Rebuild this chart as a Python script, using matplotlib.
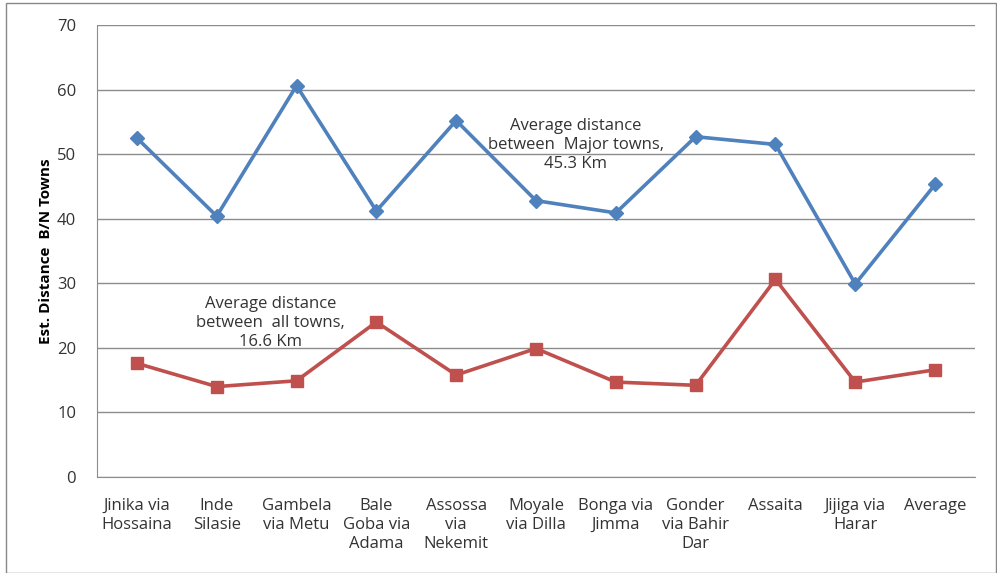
import matplotlib
matplotlib.use("Agg")
import matplotlib.pyplot as plt
from matplotlib.patches import Rectangle

plt.rcParams['font.family'] = ['Open Sans', 'DejaVu Sans']

# routes along the x axis
routes = ["Jinika via\nHossaina", "Inde\nSilasie", "Gambela\nvia Metu",
          "Bale\nGoba via\nAdama", "Assossa\nvia\nNekemit", "Moyale\nvia Dilla",
          "Bonga via\nJimma", "Gonder\nvia Bahir\nDar", "Assaita",
          "Jijiga via\nHarar", "Average"]

major_towns = [52.5, 40.4, 60.6, 41.2, 55.2, 42.8, 40.9, 52.7, 51.5, 29.9, 45.3]
all_towns = [17.6, 14.0, 14.9, 24.0, 15.8, 19.9, 14.7, 14.2, 30.6, 14.7, 16.6]

y_ticks = [0, 10, 20, 30, 40, 50, 60, 70]

blue = '#4F81BD'
red = '#C0504D'
grid_col = '#8C8C8C'

fig = plt.figure(figsize=(9.97, 5.73), dpi=100)
ax = fig.add_axes([97 / 997, 1 - 477 / 573, (975 - 97) / 997, (477 - 25) / 573])

x = list(range(len(routes)))
ax.plot(x, major_towns, color=blue, lw=2.6, marker='D', ms=7, mec=blue, mfc=blue, zorder=3)
ax.plot(x, all_towns, color=red, lw=2.6, marker='s', ms=9, mec=red, mfc=red, zorder=3)

ax.set_xlim(-0.5, len(routes) - 0.5)
ax.set_ylim(0, 70)
ax.set_yticks(y_ticks)
ax.yaxis.grid(True, color=grid_col, lw=1)
ax.set_axisbelow(True)
ax.set_xticks(x)
ax.set_xticklabels(routes, fontsize=12, linespacing=1.25, color='#333333')
ax.tick_params(axis='both', length=0, labelsize=12, colors='#333333')
ax.tick_params(axis='x', pad=15)
ax.tick_params(axis='y', pad=15)

for s in ['top', 'right']:
    ax.spines[s].set_visible(False)
ax.spines['left'].set_color(grid_col)
ax.spines['bottom'].set_color(grid_col)

ax.set_ylabel("Est. Distance  B/N Towns", fontsize=11, fontweight='bold', labelpad=3)

ax.text(5.5, 51.4, "Average distance\nbetween  Major towns,\n45.3 Km", ha='center', va='center',
        fontsize=12, linespacing=1.25, color='#333333')
ax.text(1.67, 23.8, "Average distance\nbetween  all towns,\n16.6 Km", ha='center', va='center',
        fontsize=12, linespacing=1.25, color='#333333')

fig.patches.append(Rectangle((6 / 997, 0), 990 / 997, 1 - 3 / 573, transform=fig.transFigure,
                             fill=False, ec='#888888', lw=1))

fig.savefig("out.png", dpi=100)
